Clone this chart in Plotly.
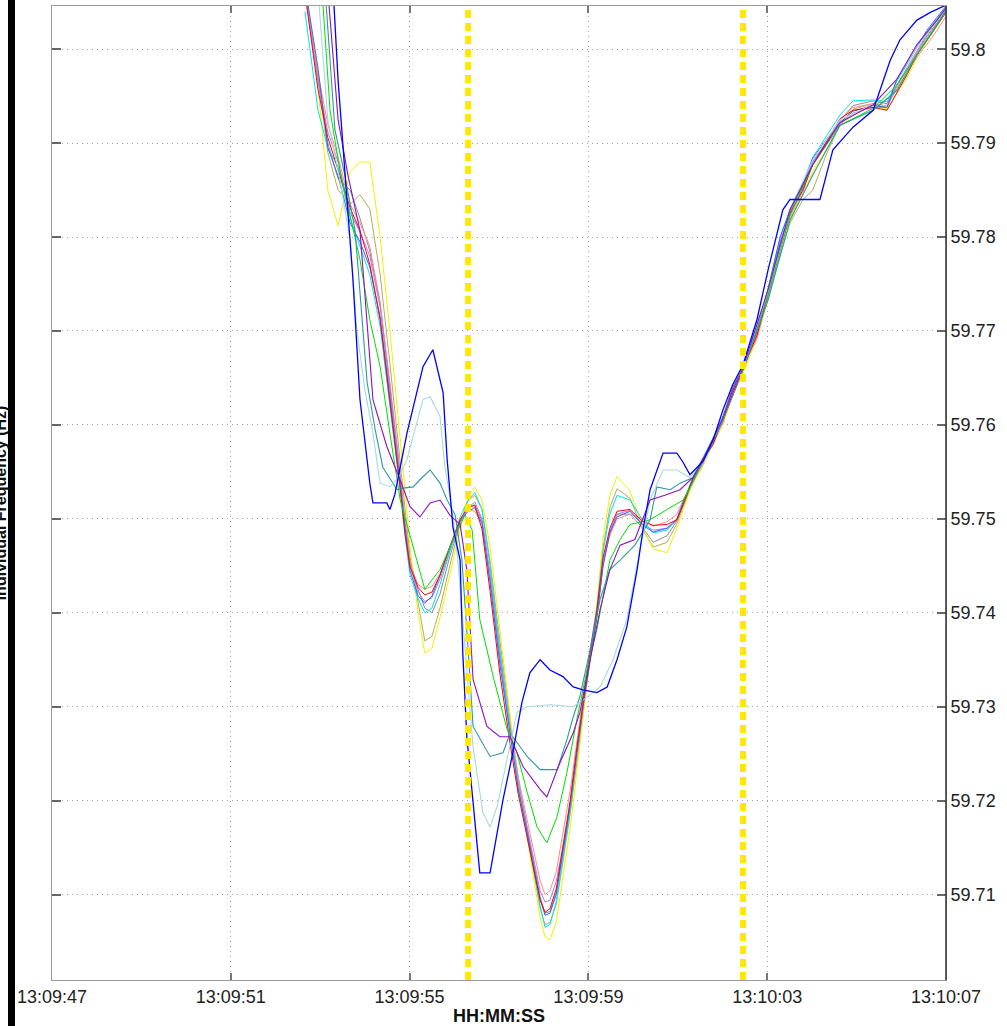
import pandas as pd
import plotly.graph_objects as go

BASE = "2000-01-01 13:09:47"

# event markers (seconds after 13:09:47)
event_times = [9.31, 15.46]

# x tick labels
x_tick_seconds = [0, 4, 8, 12, 16, 20]
x_tick_labels = ["13:09:47", "13:09:51", "13:09:55", "13:09:59", "13:10:03", "13:10:07"]
y_tick_vals = [59.71, 59.72, 59.73, 59.74, 59.75, 59.76, 59.77, 59.78, 59.79, 59.80]
y_tick_labels = ["59.71", "59.72", "59.73", "59.74", "59.75", "59.76", "59.77", "59.78", "59.79", "59.8"]

# common time base of the main bundle (seconds after 13:09:47)
t_main = [5.66, 5.95, 6.17, 6.40, 6.67, 6.89, 7.11, 7.34, 7.56, 7.79,
          7.90, 8.01, 8.19, 8.34, 8.50, 8.68, 8.90, 9.13, 9.31, 9.46,
          9.62, 9.80, 10.02, 10.25, 10.43, 10.58, 10.76, 10.92, 11.03, 11.14,
          11.28, 11.41, 11.59, 11.74, 11.88, 12.04, 12.19, 12.33, 12.48, 12.64,
          12.93, 13.22, 13.45, 13.76, 13.98, 14.12, 14.34, 14.56, 14.79, 15.01,
          15.23, 15.46, 15.77, 16.02, 16.29, 16.51, 16.80, 17.02, 17.34, 17.63,
          17.92, 18.37, 18.68, 18.90, 19.13, 19.35, 19.57, 19.80, 20.00]

f_red = [59.8060, 59.7957, 59.7906, 59.7872, 59.7831, 59.7807, 59.7771, 59.7712, 59.7627, 59.7533,
         59.7483, 59.7449, 59.7427, 59.7419, 59.7422, 59.7440, 59.7470, 59.7499, 59.7513, 59.7514,
         59.7489, 59.7423, 59.7335, 59.7260, 59.7207, 59.7172, 59.7129, 59.7094, 59.7081, 59.7085,
         59.7106, 59.7143, 59.7199, 59.7256, 59.7305, 59.7358, 59.7403, 59.7459, 59.7490, 59.7508,
         59.7510, 59.7497, 59.7493, 59.7494, 59.7499, 59.7515, 59.7543, 59.7564, 59.7579, 59.7608,
         59.7637, 59.7661, 59.7695, 59.7740, 59.7792, 59.7826, 59.7850, 59.7877, 59.7903, 59.7926,
         59.7935, 59.7938, 59.7935, 59.7954, 59.7973, 59.7994, 59.8009, 59.8026, 59.8039]

f_salmon = [59.8058, 59.7975, 59.7920, 59.7885, 59.7835, 59.7815, 59.7790, 59.7730, 59.7645, 59.7550,
            59.7495, 59.7452, 59.7430, 59.7425, 59.7428, 59.7442, 59.7470, 59.7500, 59.7510, 59.7508,
            59.7495, 59.7440, 59.7360, 59.7280, 59.7225, 59.7190, 59.7150, 59.7115, 59.7100, 59.7104,
            59.7124, 59.7160, 59.7210, 59.7262, 59.7310, 59.7362, 59.7405, 59.7455, 59.7482, 59.7500,
            59.7505, 59.7500, 59.7492, 59.7497, 59.7505, 59.7520, 59.7540, 59.7558, 59.7585, 59.7602,
            59.7640, 59.7662, 59.7692, 59.7735, 59.7790, 59.7822, 59.7848, 59.7880, 59.7900, 59.7925,
            59.7938, 59.7942, 59.7940, 59.7958, 59.7975, 59.7992, 59.8005, 59.8020, 59.8035]

f_yellow = [59.8070, 59.7960, 59.7850, 59.7812, 59.7870, 59.7880, 59.7880, 59.7800, 59.7700, 59.7590,
            59.7530, 59.7470, 59.7400, 59.7357, 59.7362, 59.7395, 59.7440, 59.7490, 59.7525, 59.7534,
            59.7520, 59.7470, 59.7380, 59.7290, 59.7220, 59.7175, 59.7120, 59.7075, 59.7055, 59.7052,
            59.7070, 59.7110, 59.7170, 59.7230, 59.7290, 59.7355, 59.7410, 59.7480, 59.7525, 59.7545,
            59.7530, 59.7490, 59.7468, 59.7464, 59.7490, 59.7510, 59.7538, 59.7556, 59.7580, 59.7600,
            59.7632, 59.7655, 59.7692, 59.7735, 59.7790, 59.7820, 59.7845, 59.7870, 59.7895, 59.7918,
            59.7930, 59.7940, 59.7936, 59.7952, 59.7970, 59.7990, 59.8008, 59.8025, 59.8040]

f_olive = [59.8065, 59.7970, 59.7890, 59.7850, 59.7835, 59.7845, 59.7830, 59.7760, 59.7665, 59.7565,
           59.7510, 59.7460, 59.7410, 59.7370, 59.7375, 59.7405, 59.7450, 59.7495, 59.7520, 59.7525,
           59.7510, 59.7455, 59.7370, 59.7285, 59.7225, 59.7180, 59.7130, 59.7085, 59.7068, 59.7070,
           59.7090, 59.7128, 59.7185, 59.7240, 59.7295, 59.7352, 59.7402, 59.7470, 59.7512, 59.7532,
           59.7522, 59.7488, 59.7470, 59.7475, 59.7495, 59.7512, 59.7540, 59.7560, 59.7584, 59.7604,
           59.7634, 59.7658, 59.7696, 59.7738, 59.7780, 59.7815, 59.7840, 59.7850, 59.7890, 59.7920,
           59.7936, 59.7942, 59.7938, 59.7960, 59.7978, 59.7996, 59.8012, 59.8028, 59.8042]

f_gray = [59.8062, 59.7972, 59.7900, 59.7862, 59.7850, 59.7820, 59.7785, 59.7730, 59.7642, 59.7545,
          59.7495, 59.7455, 59.7425, 59.7405, 59.7400, 59.7420, 59.7460, 59.7495, 59.7512, 59.7515,
          59.7498, 59.7440, 59.7355, 59.7275, 59.7220, 59.7182, 59.7138, 59.7098, 59.7080, 59.7082,
          59.7102, 59.7138, 59.7190, 59.7248, 59.7298, 59.7352, 59.7396, 59.7452, 59.7486, 59.7505,
          59.7505, 59.7490, 59.7475, 59.7482, 59.7498, 59.7515, 59.7541, 59.7562, 59.7582, 59.7605,
          59.7636, 59.7659, 59.7697, 59.7742, 59.7795, 59.7825, 59.7852, 59.7880, 59.7902, 59.7924,
          59.7940, 59.7945, 59.7942, 59.7962, 59.7978, 59.7996, 59.8014, 59.8028, 59.8040]

f_cyan = [59.8040, 59.7935, 59.7895, 59.7875, 59.7820, 59.7790, 59.7760, 59.7705, 59.7620, 59.7530,
          59.7480, 59.7440, 59.7415, 59.7400, 59.7405, 59.7430, 59.7465, 59.7502, 59.7520, 59.7528,
          59.7510, 59.7450, 59.7360, 59.7275, 59.7215, 59.7175, 59.7130, 59.7088, 59.7065, 59.7068,
          59.7092, 59.7132, 59.7188, 59.7250, 59.7302, 59.7358, 59.7405, 59.7466, 59.7505, 59.7525,
          59.7520, 59.7498, 59.7485, 59.7488, 59.7500, 59.7518, 59.7545, 59.7565, 59.7586, 59.7610,
          59.7640, 59.7662, 59.7700, 59.7745, 59.7800, 59.7830, 59.7858, 59.7885, 59.7908, 59.7930,
          59.7945, 59.7946, 59.7944, 59.7966, 59.7984, 59.8002, 59.8018, 59.8033, 59.8045]

f_royal = [59.8068, 59.7980, 59.7895, 59.7865, 59.7815, 59.7795, 59.7768, 59.7715, 59.7630, 59.7535,
           59.7485, 59.7445, 59.7418, 59.7410, 59.7418, 59.7440, 59.7470, 59.7498, 59.7508, 59.7512,
           59.7495, 59.7432, 59.7345, 59.7268, 59.7212, 59.7178, 59.7135, 59.7095, 59.7078, 59.7080,
           59.7100, 59.7138, 59.7195, 59.7250, 59.7300, 59.7350, 59.7395, 59.7450, 59.7485, 59.7502,
           59.7508, 59.7493, 59.7486, 59.7490, 59.7500, 59.7518, 59.7542, 59.7562, 59.7585, 59.7608,
           59.7640, 59.7660, 59.7702, 59.7745, 59.7800, 59.7828, 59.7855, 59.7884, 59.7905, 59.7922,
           59.7934, 59.7940, 59.7938, 59.7968, 59.7985, 59.8002, 59.8020, 59.8034, 59.8046]

f_lilac = [59.8062, 59.7965, 59.7912, 59.7880, 59.7826, 59.7805, 59.7780, 59.7725, 59.7640, 59.7545,
           59.7492, 59.7450, 59.7422, 59.7412, 59.7416, 59.7436, 59.7466, 59.7496, 59.7512, 59.7518,
           59.7500, 59.7438, 59.7352, 59.7274, 59.7219, 59.7183, 59.7140, 59.7104, 59.7092, 59.7094,
           59.7114, 59.7146, 59.7196, 59.7252, 59.7300, 59.7354, 59.7398, 59.7454, 59.7487, 59.7505,
           59.7509, 59.7494, 59.7488, 59.7490, 59.7498, 59.7516, 59.7540, 59.7560, 59.7580, 59.7604,
           59.7636, 59.7659, 59.7697, 59.7738, 59.7795, 59.7824, 59.7852, 59.7880, 59.7902, 59.7920,
           59.7932, 59.7938, 59.7938, 59.7962, 59.7980, 59.7998, 59.8016, 59.8030, 59.8043]

t_green = [6.04, 6.22, 6.44, 6.67, 6.89, 7.11, 7.34, 7.56, 7.79, 8.08,
           8.34, 8.68, 9.02, 9.24, 9.40, 9.57, 9.87, 10.18, 10.40, 10.63,
           10.85, 11.07, 11.30, 11.52, 11.74, 11.97, 12.19, 12.48, 12.71, 12.93,
           13.38, 13.76, 14.12, 14.34, 14.56, 15.01, 15.46, 16.02, 16.51, 17.02,
           17.63, 18.37, 18.90, 19.35, 19.80, 20.00]
f_green = [59.8063, 59.7935, 59.7871, 59.7823, 59.7776, 59.7712, 59.7662, 59.7591, 59.7520, 59.7470,
           59.7425, 59.7446, 59.7483, 59.7504, 59.7488, 59.7393, 59.7332, 59.7276, 59.7251, 59.7209,
           59.7172, 59.7155, 59.7183, 59.7230, 59.7286, 59.7339, 59.7382, 59.7456, 59.7478, 59.7494,
           59.7499, 59.7510, 59.7520, 59.7539, 59.7561, 59.7605, 59.7659, 59.7738, 59.7823, 59.7877,
           59.7919, 59.7937, 59.7962, 59.7994, 59.8026, 59.8040]

t_teal = [6.11, 6.33, 6.55, 6.78, 7.05, 7.23, 7.40, 7.72, 7.90, 8.08,
          8.28, 8.46, 8.68, 8.84, 9.02, 9.17, 9.31, 9.42, 9.80, 10.09,
          10.25, 10.63, 10.92, 11.30, 11.52, 11.66, 11.81, 12.04, 12.26, 12.48,
          12.71, 13.04, 13.38, 13.53, 13.83, 14.05, 14.34, 14.56, 15.01, 15.46,
          16.02, 16.51, 17.02, 17.63, 18.37, 18.90, 19.35, 19.80, 20.00]
f_teal = [59.8063, 59.7914, 59.7866, 59.7807, 59.7645, 59.7595, 59.7555, 59.7531, 59.7533, 59.7534,
          59.7544, 59.7552, 59.7538, 59.7520, 59.7504, 59.7456, 59.7361, 59.7279, 59.7247, 59.7251,
          59.7272, 59.7247, 59.7233, 59.7233, 59.7265, 59.7289, 59.7311, 59.7361, 59.7414, 59.7446,
          59.7456, 59.7472, 59.7499, 59.7534, 59.7531, 59.7538, 59.7544, 59.7561, 59.7605, 59.7659,
          59.7733, 59.7818, 59.7866, 59.7919, 59.7935, 59.7956, 59.7994, 59.8026, 59.8041]

t_lcyan = [5.95, 6.17, 6.44, 6.67, 6.82, 7.00, 7.18, 7.34, 7.56, 7.79,
           7.94, 8.12, 8.30, 8.46, 8.68, 8.79, 8.95, 9.08, 9.24, 9.42,
           9.64, 9.80, 9.96, 10.18, 10.40, 10.63, 11.14, 11.66, 11.88, 12.26,
           12.55, 12.86, 13.15, 13.38, 13.67, 13.98, 14.27, 14.56, 15.01, 15.46,
           16.02, 16.51, 17.02, 17.63, 18.37, 18.90, 19.35, 19.80, 20.00]
f_lcyan = [59.8063, 59.7925, 59.7861, 59.7797, 59.7701, 59.7637, 59.7591, 59.7538, 59.7534, 59.7547,
           59.7563, 59.7595, 59.7627, 59.7630, 59.7609, 59.7555, 59.7510, 59.7456, 59.7361, 59.7257,
           59.7187, 59.7172, 59.7194, 59.7244, 59.7294, 59.7300, 59.7302, 59.7300, 59.7307, 59.7321,
           59.7350, 59.7393, 59.7467, 59.7520, 59.7552, 59.7552, 59.7544, 59.7561, 59.7607, 59.7661,
           59.7742, 59.7829, 59.7882, 59.7925, 59.7941, 59.7968, 59.8002, 59.8031, 59.8044]

t_purple = [6.17, 6.40, 6.62, 6.89, 7.18, 7.49, 7.79, 8.01, 8.23, 8.46,
            8.68, 8.90, 9.13, 9.28, 9.42, 9.73, 10.02, 10.25, 10.54, 10.92,
            11.07, 11.36, 11.66, 11.81, 12.04, 12.26, 12.48, 12.71, 13.04, 13.38,
            13.71, 14.05, 14.34, 14.56, 15.01, 15.46, 16.02, 16.51, 17.02, 17.63,
            18.37, 18.90, 19.35, 19.80, 20.00]
f_purple = [59.8063, 59.7925, 59.7866, 59.7807, 59.7627, 59.7577, 59.7541, 59.7513, 59.7502, 59.7517,
            59.7520, 59.7504, 59.7494, 59.7446, 59.7329, 59.7279, 59.7268, 59.7268, 59.7236, 59.7212,
            59.7204, 59.7240, 59.7272, 59.7294, 59.7350, 59.7403, 59.7446, 59.7472, 59.7478, 59.7520,
            59.7525, 59.7531, 59.7544, 59.7563, 59.7607, 59.7661, 59.7744, 59.7829, 59.7877, 59.7922,
            59.7941, 59.7968, 59.8005, 59.8031, 59.8044]

t_blue = [6.29, 6.40, 6.55, 6.73, 6.89, 7.11, 7.18, 7.49, 7.56, 7.67,
          7.94, 8.30, 8.52, 8.75, 8.84, 8.97, 9.13, 9.19, 9.28, 9.42,
          9.57, 9.80, 9.91, 10.09, 10.31, 10.51, 10.69, 10.92, 11.14, 11.43,
          11.66, 11.88, 12.19, 12.42, 12.64, 12.86, 13.09, 13.22, 13.38, 13.60,
          13.67, 13.98, 14.12, 14.27, 14.56, 14.79, 15.01, 15.23, 15.46, 15.77,
          16.02, 16.35, 16.51, 17.18, 17.47, 17.92, 18.37, 18.75, 18.97, 19.35,
          19.64, 20.00]
f_blue = [59.8063, 59.7967, 59.7871, 59.7757, 59.7627, 59.7538, 59.7517, 59.7517, 59.7510, 59.7526,
          59.7591, 59.7662, 59.7680, 59.7634, 59.7563, 59.7491, 59.7456, 59.7357, 59.7268, 59.7194,
          59.7123, 59.7123, 59.7151, 59.7201, 59.7251, 59.7304, 59.7336, 59.7350, 59.7339, 59.7332,
          59.7321, 59.7318, 59.7315, 59.7321, 59.7350, 59.7385, 59.7446, 59.7488, 59.7531, 59.7560,
          59.7570, 59.7570, 59.7560, 59.7547, 59.7561, 59.7584, 59.7616, 59.7643, 59.7664, 59.7712,
          59.7765, 59.7829, 59.7840, 59.7840, 59.7893, 59.7917, 59.7935, 59.7988, 59.8010, 59.8031,
          59.8039, 59.8047]

series = [
    ("gray", t_main, f_gray, "#8c8c8c", 1.0),
    ("olive", t_main, f_olive, "#b4ac5c", 1.0),
    ("yellow", t_main, f_yellow, "#f2f200", 1.0),
    ("salmon", t_main, f_salmon, "#ff8a8a", 1.0),
    ("lilac", t_main, f_lilac, "#b07cf0", 1.0),
    ("cyan", t_main, f_cyan, "#00e4ee", 1.0),
    ("royal", t_main, f_royal, "#3366ff", 1.0),
    ("red", t_main, f_red, "#ff0000", 1.0),
    ("green", t_green, f_green, "#00e000", 1.0),
    ("teal", t_teal, f_teal, "#2f9a9a", 1.1),
    ("lightcyan", t_lcyan, f_lcyan, "#a6dadf", 1.1),
    ("purple", t_purple, f_purple, "#9010c0", 1.1),
    ("blue", t_blue, f_blue, "#0000ff", 1.3),
]

base = pd.Timestamp(BASE)


def to_time(secs):
    return base + pd.to_timedelta(secs, unit="s")


fig = go.Figure()
for name, t, f, color, w in series:
    fig.add_trace(go.Scatter(x=to_time(t), y=f, mode="lines", name=name,
                             line=dict(color=color, width=w), showlegend=False,
                             hoverinfo="skip"))

font_family = "Liberation Sans, Arial, sans-serif"
grid_color = "#a0a0a0"

fig.update_layout(
    width=1007, height=1026,
    margin=dict(l=52, r=61, t=6, b=46, autoexpand=False),
    plot_bgcolor="white", paper_bgcolor="white",
    font=dict(family=font_family, size=18, color="#222"),
)

fig.update_xaxes(
    type="date",
    range=[to_time(0), to_time(20)],
    tickvals=list(to_time(x_tick_seconds)), ticktext=x_tick_labels,
    showgrid=True, gridcolor=grid_color, griddash="1px,4px", gridwidth=1,
    showline=True, linecolor="#9a9a9a", linewidth=1, mirror="ticks",
    ticks="inside", ticklen=7, tickcolor="#777", tickwidth=1.5,
    tickfont=dict(size=18, color="#222"),
    zeroline=False, automargin=False,
)
fig.update_yaxes(
    range=[59.7009, 59.8046], side="right",
    tickvals=y_tick_vals, ticktext=y_tick_labels,
    showgrid=True, gridcolor=grid_color, griddash="1px,4px", gridwidth=1,
    showline=True, linecolor="#9a9a9a", linewidth=1, mirror="ticks",
    ticks="inside", ticklen=9, tickcolor="#666", tickwidth=1.5,
    tickfont=dict(size=18, color="#222"),
    zeroline=False, automargin=False,
)

shapes = []
for et in event_times:
    shapes.append(dict(type="line", xref="x", yref="paper",
                       x0=to_time(et), x1=to_time(et), y0=0, y1=1,
                       line=dict(color="#ffe800", width=6, dash="8px,5px"),
                       layer="above"))
# darker right frame line
shapes.append(dict(type="line", xref="paper", yref="paper", x0=1, x1=1, y0=0, y1=1,
                   line=dict(color="#333", width=1.5)))
# black bar at far left
shapes.append(dict(type="rect", xref="paper", yref="paper",
                   x0=-0.0492, x1=-0.0414, y0=-0.06, y1=1.02,
                   fillcolor="black", line=dict(width=0)))
fig.update_layout(shapes=shapes)

fig.add_annotation(text="<b>HH:MM:SS</b>", xref="paper", yref="paper",
                   x=0.5, y=-0.037, showarrow=False, yanchor="middle",
                   font=dict(size=18, color="#111"))
fig.add_annotation(text="<b>Individual Frequency (Hz)</b>", xref="paper", yref="paper",
                   x=-0.0575, y=0.49, showarrow=False, textangle=-90,
                   xanchor="center", yanchor="middle",
                   font=dict(size=16, color="#111"))

fig.write_html("out.html")
